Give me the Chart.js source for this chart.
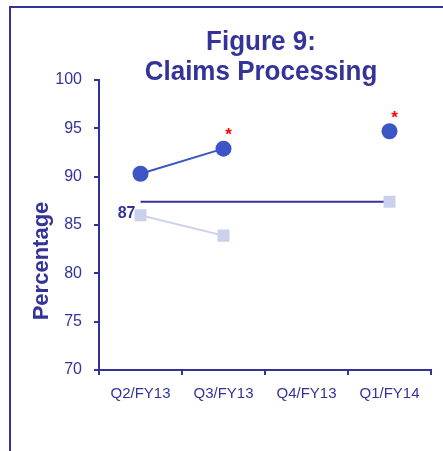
<!DOCTYPE html>
<html>
<head>
<meta charset="utf-8">
<script src="https://cdn.jsdelivr.net/npm/chart.js@4"></script>
<style>
  body { margin: 0; background: #fff; }
  #wrap { width: 443px; height: 451px; position: relative; }
</style>
</head>
<body>
<div id="wrap"><canvas id="chart"></canvas></div>
<script>
// データ
const categories = ['Q2/FY13', 'Q3/FY13', 'Q4/FY13', 'Q1/FY14'];
const circleValues = [90.3, 92.9, null, 94.7];
const squareValues = [86.0, 83.9, null, 87.4];
const targetValues = [87.4, 87.4, 87.4, 87.4];
const targetLabel = '87';
const starred = [false, true, false, true];
const yTicks = [70, 75, 80, 85, 90, 95, 100];

const navy = '#333399';
const font = '"Liberation Sans", Arial, sans-serif';

// 枠線・タイトル・注記
const extras = {
  id: 'extras',
  afterDraw(chart) {
    const c = chart.ctx;
    const area = chart.chartArea;
    c.save();
    // 枠
    c.strokeStyle = navy;
    c.lineWidth = 2;
    c.beginPath();
    c.moveTo(10, 460);
    c.lineTo(10, 7);
    c.lineTo(450, 7);
    c.stroke();

    // タイトル（少し縦長）
    c.fillStyle = navy;
    c.textAlign = 'center';
    c.textBaseline = 'alphabetic';
    c.font = 'bold 26px ' + font;
    const cx = (area.left + area.right) / 2 - 4;
    c.save();
    c.scale(1, 1.08);
    c.fillText('Figure 9:', cx, 50 / 1.08);
    c.fillText('Claims Processing', cx, 80 / 1.08);
    c.restore();

    // Y軸タイトル
    c.save();
    c.translate(42, 261);
    c.rotate(-Math.PI / 2);
    c.font = 'bold 22px ' + font;
    c.textBaseline = 'middle';
    c.fillText('Percentage', 0, 0);
    c.restore();

    // 目標ラベル
    const y = chart.scales.y;
    const meta = chart.getDatasetMeta(2);
    c.font = 'bold 16px ' + font;
    c.textAlign = 'right';
    c.textBaseline = 'middle';
    c.fillText(targetLabel, meta.data[0].x - 5, y.getPixelForValue(targetValues[0]) + 12);

    // アスタリスク
    const cm = chart.getDatasetMeta(0);
    c.fillStyle = '#ff0000';
    c.textAlign = 'center';
    c.font = 'bold 17px ' + font;
    starred.forEach((s, i) => {
      if (!s) return;
      const p = cm.data[i];
      c.fillText('*', p.x + 5, p.y - 13);
    });
    c.restore();
  }
};

new Chart(document.getElementById('chart'), {
  type: 'line',
  data: {
    labels: categories,
    datasets: [
      {
        data: circleValues,
        borderColor: '#3b55c6',
        backgroundColor: '#3b55c6',
        borderWidth: 2,
        pointStyle: 'circle',
        pointRadius: 8,
        pointBorderWidth: 0,
        spanGaps: false,
        order: 1
      },
      {
        data: squareValues,
        borderColor: '#cbd0ec',
        backgroundColor: '#cbd0ec',
        borderWidth: 2,
        pointStyle: 'rect',
        pointRadius: 8.5,
        pointBorderWidth: 0,
        spanGaps: false,
        order: 2
      },
      {
        data: targetValues,
        borderColor: navy,
        borderWidth: 2,
        pointRadius: 0,
        order: 3
      }
    ]
  },
  options: {
    responsive: true,
    maintainAspectRatio: false,
    animation: false,
    layout: { padding: { top: 80, right: 12, bottom: 41, left: 0 } },
    plugins: {
      legend: { display: false },
      tooltip: { enabled: false }
    },
    scales: {
      x: {
        offset: true,
        grid: { offset: true, drawOnChartArea: false, tickLength: 5, color: navy, lineWidth: 2 },
        border: { color: navy, width: 2 },
        ticks: { color: navy, font: { family: font, size: 15 }, padding: 10, maxRotation: 0 },
        afterFit(s) { s.height = 40; }
      },
      y: {
        min: 70,
        max: 100,
        afterBuildTicks(s) { s.ticks = yTicks.map(v => ({ value: v })); },
        grid: { drawOnChartArea: false, tickLength: 5, color: navy, lineWidth: 2 },
        border: { color: navy, width: 2 },
        ticks: { color: navy, font: { family: font, size: 16 }, padding: 12 },
        afterFit(s) { s.width = 99; }
      }
    }
  },
  plugins: [extras]
});
</script>
</body>
</html>
